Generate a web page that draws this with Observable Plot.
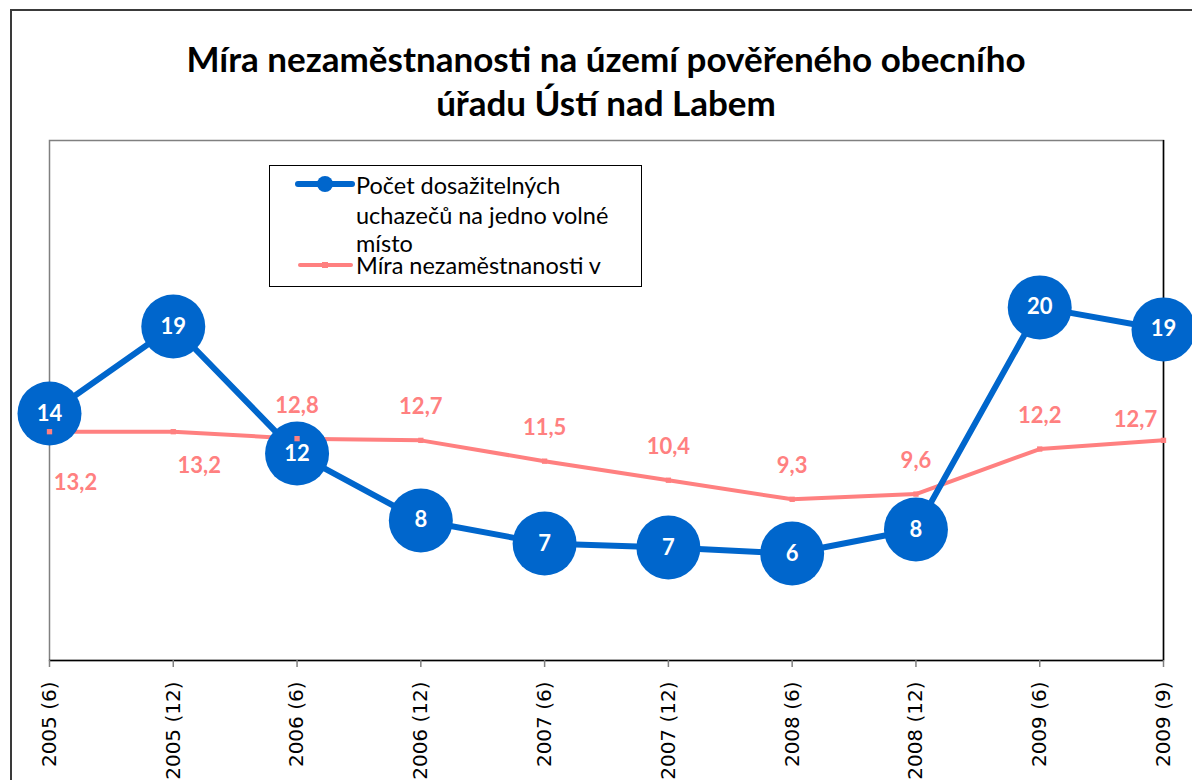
<!DOCTYPE html>
<html><head><meta charset="utf-8">
<script src="https://cdn.jsdelivr.net/npm/d3@7"></script>
<script src="https://cdn.jsdelivr.net/npm/@observablehq/plot@0.6"></script>
<style>
body{margin:0;background:#fff;}
#wrap{position:relative;width:1192px;height:780px;overflow:hidden;background:#fff;}
#outer{position:absolute;left:10px;top:9px;width:1300px;height:900px;border:2px solid #3a3a3a;box-sizing:border-box;}
#chart{position:absolute;left:0;top:0;}
#title{position:absolute;left:0;top:36px;width:1212px;text-align:center;font-family:Lato,sans-serif;font-weight:bold;font-size:35px;line-height:44px;color:#000;}
#legend{position:absolute;left:269px;top:165px;width:373px;height:122px;border:1.5px solid #000;box-sizing:border-box;background:#fff;font-family:Lato,sans-serif;font-size:23.5px;color:#000;overflow:hidden;}
#legend svg{position:absolute;left:0;top:0;}
#legend .t{position:absolute;left:86px;white-space:nowrap;line-height:26px;}
</style>
</head><body>
<div id="wrap">
  <div id="outer"></div>
  <div id="chart"></div>
  <div id="title">Míra nezaměstnanosti na území pověřeného obecního<br>úřadu Ústí nad Labem</div>
  <div id="legend"></div>
</div>
<script>
const categories = ["2005 (6)", "2005 (12)", "2006 (6)", "2006 (12)", "2007 (6)", "2007 (12)", "2008 (6)", "2008 (12)", "2009 (6)", "2009 (9)"];
const uchazeci = [14.25, 19.27, 11.94, 8.08, 6.75, 6.52, 6.17, 7.56, 20.37, 19.1];
const mira = [13.2, 13.2, 12.8, 12.7, 11.5, 10.4, 9.3, 9.6, 12.2, 12.7];
const seriesNames = ["Počet dosažitelných uchazečů na jedno volné místo", "Míra nezaměstnanosti v"];

const blue = "#0066CC", red = "#FF8080";
const data = categories.map((c, i) => ({c, u: uchazeci[i], m: mira[i], i}));
const last = categories.length - 1;
const fmt = v => v.toFixed(1).replace(".", ",");
const redText = {x: "c", y: "m", text: d => fmt(d.m), fill: red, fontWeight: "bold", fontSize: 22, fontFamily: "Lato, sans-serif"};

const chart = Plot.plot({
  width: 1192, height: 780,
  marginLeft: 49, marginRight: 29, marginTop: 140, marginBottom: 120,
  x: {type: "point", domain: categories, padding: 0, round: false, label: null},
  y: {domain: [0, 30], axis: null},
  style: {background: "transparent", overflow: "visible"},
  marks: [
    Plot.frame({stroke: "#808080", strokeWidth: 1.5}),
    Plot.ruleX([categories[last]], {stroke: "#000", strokeWidth: 1.5}),
    Plot.ruleY([0], {stroke: "#000", strokeWidth: 1.5}),
    Plot.axisX({tickSize: 7, tickFormat: () => "", stroke: "#808080", strokeWidth: 1.5, label: null}),
    Plot.axisX({tickSize: 0, tickRotate: -90, tickPadding: 21, fontSize: 20, fontFamily: "DejaVu Sans", fill: "#000", label: null}),
    Plot.lineY(data, {x: "c", y: "m", stroke: red, strokeWidth: 4}),
    Plot.lineY(data, {x: "c", y: "u", stroke: blue, strokeWidth: 6}),
    Plot.dot(data, {x: "c", y: "u", r: 32, fill: blue}),
    Plot.text(data, {x: "c", y: "u", text: d => String(Math.round(d.u)), fill: "#fff", fontWeight: "bold", fontSize: 22, fontFamily: "Lato, sans-serif"}),
    Plot.dot(data, {x: "c", y: "m", symbol: "square", r: 3, fill: red}),
    Plot.text(data, {...redText, filter: d => d.i === 0, dx: 26, dy: 51}),
    Plot.text(data, {...redText, filter: d => d.i === 1, dx: 26, dy: 34}),
    Plot.text(data, {...redText, filter: d => d.i === last, dx: -28, dy: -20}),
    Plot.text(data, {...redText, filter: d => d.i > 1 && d.i < last, dy: -33})
  ]
});
document.getElementById("chart").appendChild(chart);

const lg = document.getElementById("legend");
lg.innerHTML = `<svg width="373" height="122">
  <line x1="28" x2="82" y1="18" y2="18" stroke="${blue}" stroke-width="6" stroke-linecap="round"/>
  <circle cx="55" cy="18" r="8" fill="${blue}"/>
  <line x1="30" x2="81" y1="99" y2="99" stroke="${red}" stroke-width="4" stroke-linecap="round"/>
  <rect x="52" y="96" width="6" height="6" fill="${red}"/>
</svg>
<div class="t" style="top:6px">Počet dosažitelných</div>
<div class="t" style="top:36px">uchazečů na jedno volné</div>
<div class="t" style="top:64px">místo</div>
<div class="t" style="top:86px">${seriesNames[1]}</div>`;
</script>
</body></html>
